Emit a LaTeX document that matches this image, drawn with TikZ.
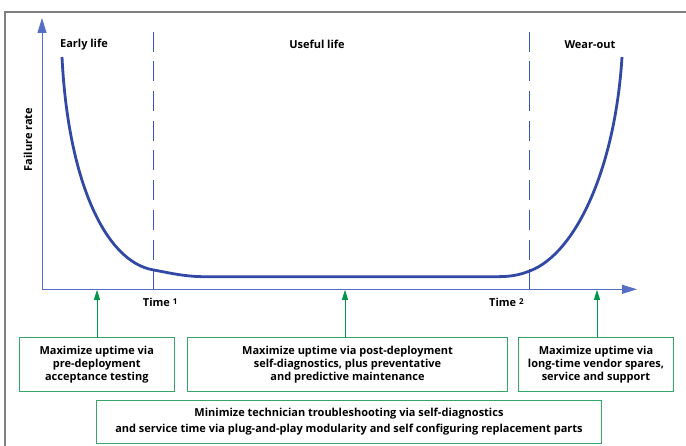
\documentclass[tikz,border=0pt]{standalone}
\usepackage{fontspec}
\setmainfont{Open Sans}
\usetikzlibrary{arrows.meta}
\definecolor{framegray}{RGB}{128,128,128}
\definecolor{axisblue}{RGB}{85,110,195}
\definecolor{curveblue}{RGB}{50,72,165}
\definecolor{dashblue}{RGB}{60,85,185}
\definecolor{arrowgreen}{RGB}{0,150,75}
\definecolor{boxgreen}{RGB}{55,165,105}
\tikzset{
  lbl/.style={font=\fontsize{11}{13}\selectfont\bfseries, inner sep=0pt},
  axisline/.style={draw=axisblue, line width=1pt},
  phase/.style={draw=dashblue, line width=1.2pt, dash pattern=on 20pt off 9.7pt},
  lifecurve/.style={draw=curveblue, line width=2.8pt},
  goalbox/.style={draw=boxgreen, line width=1pt, align=center, inner sep=0pt,
    font=\fontsize{11}{13.3}\selectfont\bfseries},
  goalarrow/.style={draw=arrowgreen, line width=1pt, -{Triangle[length=10pt,width=6pt]}},
}
\begin{document}
\begin{tikzpicture}[x=1pt,y=-1pt]
\useasboundingbox (0,0) rectangle (686,446);
% frame
\draw[framegray, line width=1.5pt] (5,446) -- (5,12) -- (686,12);
% axes
\coordinate (origin) at (42,289.3);
\coordinate (ytip) at (42,18);
\coordinate (xtip) at (637,289.3);
\draw[axisline, -{Triangle[length=15pt,width=9pt]}] (origin) -- (ytip);
\draw[axisline, -{Triangle[length=15pt,width=9pt]}] (origin) -- (xtip);
% phase boundaries
\coordinate (t1top) at (153.7,31.7);
\coordinate (t1bot) at (153.7,289.3);
\coordinate (t2top) at (529.7,31.7);
\coordinate (t2bot) at (529.7,289.3);
\draw[phase] (t1top) -- (t1bot);
\draw[phase] (t2top) -- (t2bot);
% curve
\draw[lifecurve, line cap=butt]
  (62,57) .. controls (68,180) and (105,262) .. (153.7,270)
  .. controls (170,273) and (185,276.7) .. (205,276.7)
  -- (495,276.7)
  .. controls (510,276.7) and (518,275.5) .. (529.7,271)
  .. controls (575,254) and (615,170) .. (622,57);
% labels
\node[lbl] (early) at (84,44.5) {Early life};
\node[lbl] (useful) at (317,44.5) {Useful life};
\node[lbl] (wear) at (590,44.5) {Wear-out};
\node[lbl, rotate=90] (frate) at (28,139.5) {Failure rate};
\node[lbl, anchor=west] (time1) at (142.7,302.7) {Time \raisebox{0.35ex}{\fontsize{8}{9}\selectfont 1}};
\node[lbl, anchor=west] (time2) at (489,302.7) {Time \raisebox{0.35ex}{\fontsize{8}{9}\selectfont 2}};
% boxes
\node[goalbox, minimum width=155pt, minimum height=54.3pt] (b1) at (96.8,364.8)
  {Maximize uptime via\\pre-deployment\\acceptance testing};
\node[goalbox, minimum width=320.4pt, minimum height=54.3pt] (b2) at (347.5,364.8)
  {Maximize uptime via post-deployment\\self-diagnostics, plus preventative\\and predictive maintenance};
\node[goalbox, minimum width=154.6pt, minimum height=54.3pt] (b3) at (596,364.8)
  {Maximize uptime via\\long-time vendor spares,\\service and support};
\node[goalbox, minimum width=505.4pt, minimum height=42.6pt,
  font=\fontsize{11}{16}\selectfont\bfseries] (b4) at (349,422)
  {Minimize technician troubleshooting via self-diagnostics\\and service time via plug-and-play modularity and self configuring replacement parts};
% green arrows
\coordinate (a1) at (97,289.8);
\coordinate (a2) at (345,289.8);
\coordinate (a3) at (597,289.8);
\draw[goalarrow] (b1.north -| a1) -- (a1);
\draw[goalarrow] (b2.north -| a2) -- (a2);
\draw[goalarrow] (b3.north -| a3) -- (a3);
\end{tikzpicture}
\end{document}
